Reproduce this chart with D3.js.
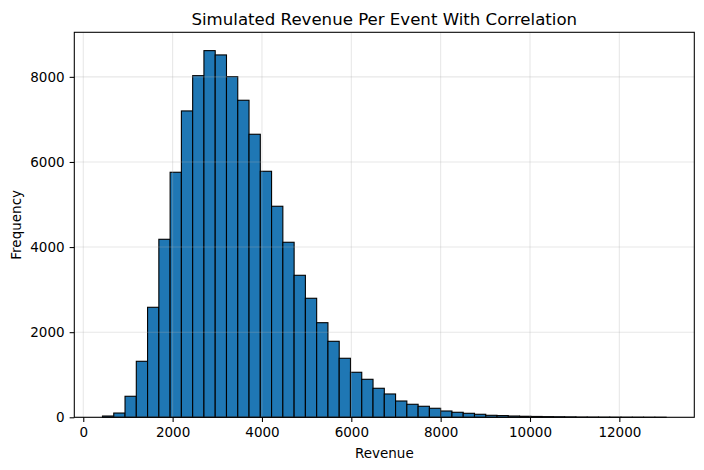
<!DOCTYPE html>
<html>
<head>
<meta charset="utf-8">
<script src="https://cdn.jsdelivr.net/npm/d3@7"></script>
<style>
  body { margin: 0; background: #fff; }
  text { font-family: "DejaVu Sans", sans-serif; fill: #000; }
</style>
</head>
<body>
<div id="chart"></div>
<script>
// histogram counts, 50 equal bins
var binStart = 430,
    binEnd = 13047;
var counts = [30, 100, 494, 1316, 2585, 4183, 5758, 7199, 8028, 8616,
              8515, 8005, 7450, 6651, 5781, 4959, 4113, 3337, 2797, 2223,
              1786, 1387, 1058, 893, 682, 548, 383, 306, 259, 212,
              148, 118, 94, 71, 47, 40, 30, 24, 20, 16,
              13, 10, 6, 5, 4, 3, 2, 2, 1, 1];
var xTicks = [0, 2000, 4000, 6000, 8000, 10000, 12000];
var yTicks = [0, 2000, 4000, 6000, 8000];

var width = 704, height = 470;
var margin = {left: 74.3, right: 704 - 694.3, top: 32.3, bottom: 470 - 417.3};
var fs = 13.5; // 10pt-ish

var svg = d3.select("#chart").append("svg")
    .attr("width", width)
    .attr("height", height);

var binW = (binEnd - binStart) / counts.length;
var bins = counts.map(function(c, i) {
  return {x0: binStart + i * binW, x1: binStart + (i + 1) * binW, n: c};
});

// matplotlib style 5% margins on x, 5% headroom on y
var pad = (binEnd - binStart) * 0.05;
var x = d3.scaleLinear()
    .domain([binStart - pad, binEnd + pad])
    .range([margin.left, width - margin.right]);
var y = d3.scaleLinear()
    .domain([0, d3.max(counts) * 1.05])
    .range([height - margin.bottom, margin.top]);

svg.append("g").selectAll("rect")
  .data(bins)
  .enter().append("rect")
    .attr("x", function(d) { return x(d.x0); })
    .attr("y", function(d) { return y(d.n); })
    .attr("width", function(d) { return x(d.x1) - x(d.x0); })
    .attr("height", function(d) { return y(0) - y(d.n); })
    .attr("fill", "#1f77b4")
    .attr("stroke", "#000")
    .attr("stroke-width", 1.1);

// grid sits above the bars like in the original
var grid = svg.append("g").attr("class", "grid");
grid.selectAll("line.vx")
  .data(xTicks)
  .enter().append("line")
    .attr("x1", function(d) { return x(d); })
    .attr("x2", function(d) { return x(d); })
    .attr("y1", margin.top)
    .attr("y2", height - margin.bottom)
    .style("stroke", "#b0b0b0")
    .style("stroke-opacity", 0.3)
    .style("stroke-width", 1.07);
grid.selectAll("line.hy")
  .data(yTicks)
  .enter().append("line")
    .attr("y1", function(d) { return y(d); })
    .attr("y2", function(d) { return y(d); })
    .attr("x1", margin.left)
    .attr("x2", width - margin.right)
    .style("stroke", "#b0b0b0")
    .style("stroke-opacity", 0.3)
    .style("stroke-width", 1.07);

var xAxis = svg.append("g")
    .attr("transform", "translate(0," + (height - margin.bottom) + ")")
    .call(d3.axisBottom(x).tickValues(xTicks).tickFormat(d3.format("d"))
      .tickSizeInner(4.67).tickSizeOuter(0).tickPadding(5.5));
var yAxis = svg.append("g")
    .attr("transform", "translate(" + margin.left + ",0)")
    .call(d3.axisLeft(y).tickValues(yTicks).tickFormat(d3.format("d"))
      .tickSizeInner(4.67).tickSizeOuter(0).tickPadding(5));

[xAxis, yAxis].forEach(function(a) {
  a.select(".domain").remove();
  a.selectAll(".tick line").attr("stroke", "#000").attr("stroke-width", 1.07);
  a.selectAll(".tick text")
    .style("font-family", "DejaVu Sans, sans-serif")
    .style("font-size", fs + "px");
});

// frame
svg.append("rect")
    .attr("x", margin.left)
    .attr("y", margin.top)
    .attr("width", width - margin.left - margin.right)
    .attr("height", height - margin.top - margin.bottom)
    .attr("fill", "none")
    .attr("stroke", "#000")
    .attr("stroke-width", 1.07);

var cx = (margin.left + width - margin.right) / 2;
svg.append("text")
    .attr("x", cx)
    .attr("y", 24.5)
    .attr("text-anchor", "middle")
    .style("font-size", "16.6px")
    .text("Simulated Revenue Per Event With Correlation");

svg.append("text")
    .attr("x", cx)
    .attr("y", 457.5)
    .attr("text-anchor", "middle")
    .style("font-size", fs + "px")
    .text("Revenue");

svg.append("text")
    .attr("transform", "translate(21," + ((margin.top + height - margin.bottom) / 2) + ") rotate(-90)")
    .attr("text-anchor", "middle")
    .style("font-size", fs + "px")
    .text("Frequency");
</script>
</body>
</html>
